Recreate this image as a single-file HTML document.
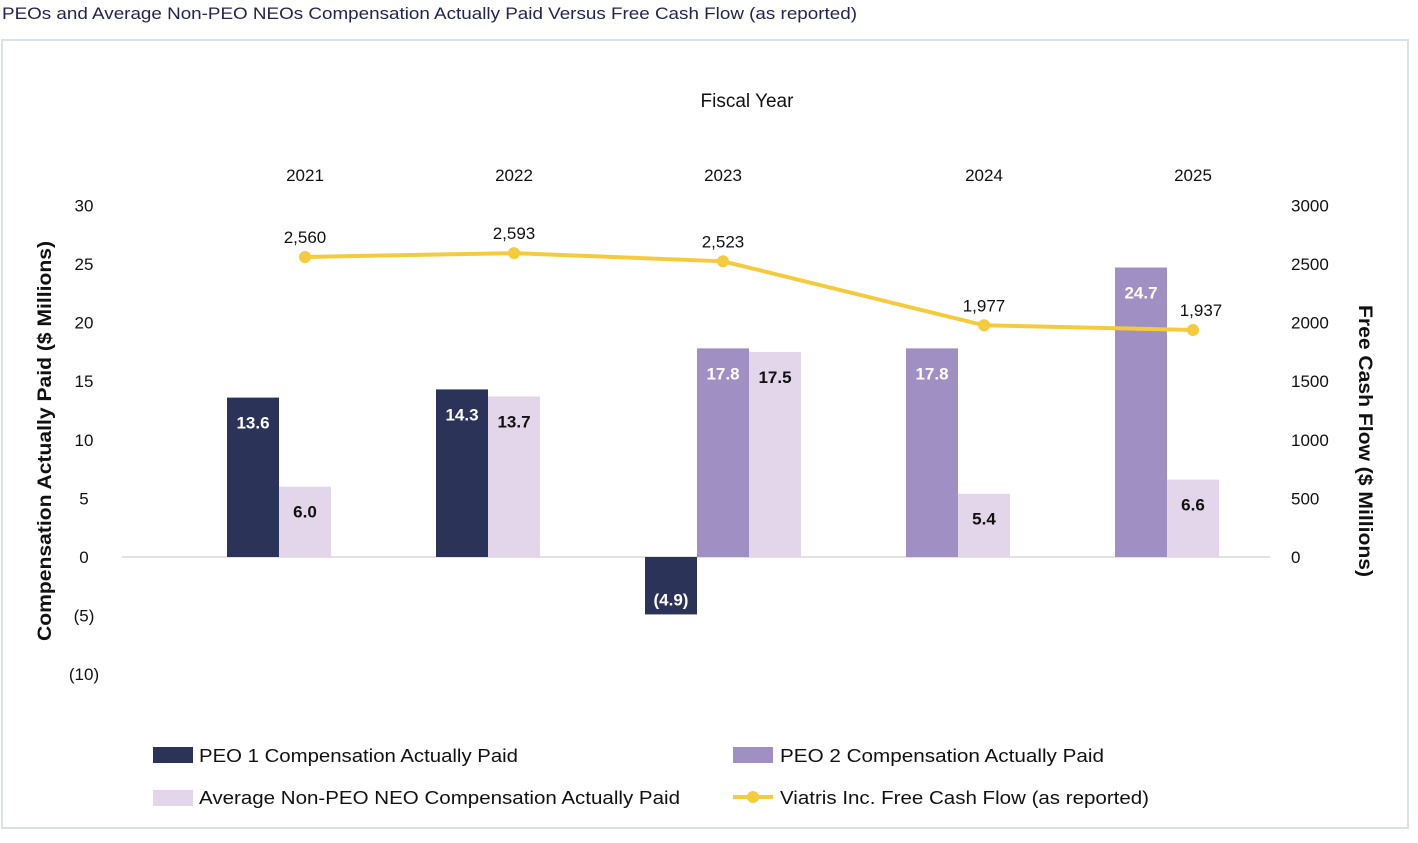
<!DOCTYPE html>
<html><head><meta charset="utf-8"><style>
body{margin:0;background:#fff;width:1418px;height:838px;overflow:hidden;font-family:"Liberation Sans",sans-serif}
</style></head><body>
<svg id="chart" width="1418" height="838" xmlns="http://www.w3.org/2000/svg" font-family="Liberation Sans, sans-serif">
<text x="2" y="19" font-size="17" fill="#23234f" textLength="855" lengthAdjust="spacingAndGlyphs">PEOs and Average Non-PEO NEOs Compensation Actually Paid Versus Free Cash Flow (as reported)</text>
<rect x="2" y="40" width="1406" height="788" fill="none" stroke="#d9e2e8" stroke-width="2"/>
<text x="747" y="107" font-size="19" text-anchor="middle" fill="#111">Fiscal Year</text>
<text transform="translate(51,441) rotate(-90)" font-size="19" font-weight="bold" text-anchor="middle" fill="#111" textLength="400" lengthAdjust="spacingAndGlyphs">Compensation Actually Paid ($ Millions)</text>
<text transform="translate(1359,441) rotate(90)" font-size="19" font-weight="bold" text-anchor="middle" fill="#111" textLength="272" lengthAdjust="spacingAndGlyphs">Free Cash Flow ($ Millions)</text>
<g id="axes"></g><g id="bars"></g><g id="line"></g>
<g font-size="18" fill="#111">
<rect x="153" y="747" width="40" height="16" fill="#2b3358"/>
<text x="199" y="762" textLength="319" lengthAdjust="spacingAndGlyphs">PEO 1 Compensation Actually Paid</text>
<rect x="733" y="747" width="40" height="16" fill="#a08fc2"/>
<text x="780" y="762" textLength="324" lengthAdjust="spacingAndGlyphs">PEO 2 Compensation Actually Paid</text>
<rect x="153" y="790" width="40" height="16" fill="#e3d6eb"/>
<text x="199" y="804" textLength="481" lengthAdjust="spacingAndGlyphs">Average Non-PEO NEO Compensation Actually Paid</text>
<line x1="733" y1="797" x2="773" y2="797" stroke="#f4cb3d" stroke-width="4"/>
<circle cx="753" cy="797" r="6" fill="#f4cb3d"/>
<text x="780" y="804" textLength="369" lengthAdjust="spacingAndGlyphs">Viatris Inc. Free Cash Flow (as reported)</text>
</g>
</svg>
<script>
const years=["2021","2022","2023","2024","2025"];
const peo1=[13.6,14.3,-4.9,null,null];
const peo2=[null,null,17.8,17.8,24.7];
const nonPeo=[6.0,13.7,17.5,5.4,6.6];
const fcf=[2560,2593,2523,1977,1937];
const leftTicks=[30,25,20,15,10,5,0,-5,-10];
const leftTickLabels=["30","25","20","15","10","5","0","(5)","(10)"];
const rightTicks=[3000,2500,2000,1500,1000,500,0];
const NS="http://www.w3.org/2000/svg";
const zeroY=557,pxPerUnit=11.72;
const yL=v=>zeroY-v*pxPerUnit;
const yR=v=>zeroY-v*(pxPerUnit*30/3000);
const barW=52,gap=105,startX=227;
function mk(tag,attrs,parent,text){const e=document.createElementNS(NS,tag);for(const k in attrs)e.setAttribute(k,attrs[k]);if(text!==undefined)e.textContent=text;parent.appendChild(e);return e;}
const axes=document.getElementById('axes'),bars=document.getElementById('bars'),line=document.getElementById('line');
leftTicks.forEach((t,i)=>{const e=mk('text',{x:84,y:yL(t)+6,'font-size':17,'text-anchor':'middle',fill:'#111'},axes,leftTickLabels[i]);

});
rightTicks.forEach(t=>{const e=mk('text',{x:1291,y:yR(t)+6,'font-size':17,fill:'#111'},axes,String(t));

});
const zl=mk('line',{x1:122,x2:1270,y1:zeroY,y2:zeroY,stroke:'#d9d9d9','stroke-width':1.5},axes);


const fmt=v=>v<0?"("+Math.abs(v).toFixed(1)+")":v.toFixed(1);
let x=startX;const centers=[];
years.forEach((yr,i)=>{
  const series=[[peo1[i],'#2b3358','#fff','peo1'],[peo2[i],'#a08fc2','#fff','peo2'],[nonPeo[i],'#e3d6eb','#111','nonpeo']].filter(s=>s[0]!==null);
  const gx=x;
  series.forEach(s=>{const v=s[0];const top=Math.min(yL(v),zeroY),h=Math.abs(yL(v)-zeroY);
    const r=mk('rect',{x:x,y:top,width:barW,height:h,fill:s[1]},bars);
    
    
    const ly=v>=0?top+31:top+h-9;
    const t=mk('text',{x:x+barW/2,y:ly,'font-size':17,'font-weight':'bold','text-anchor':'middle',fill:s[2]},bars,fmt(v));
    
    
    x+=barW;});
  const c=gx+barW*1.5;centers.push(c);
  const yt=mk('text',{x:c,y:181,'font-size':17,'text-anchor':'middle',fill:'#111'},axes,yr);
  
  
  x+=gap;});
const pl=mk('polyline',{points:fcf.map((v,i)=>centers[i]+','+yR(v)).join(' '),fill:'none',stroke:'#f4cb3d','stroke-width':4},line);


fcf.forEach((v,i)=>{const c=mk('circle',{cx:centers[i],cy:yR(v),r:6,fill:'#f4cb3d'},line);


const t=mk('text',{x:centers[i]+(i===4?8:0),y:yR(v)-14,'font-size':17,'text-anchor':'middle',fill:'#111'},line,v.toLocaleString('en-US'));

});
</script>
</body></html>
